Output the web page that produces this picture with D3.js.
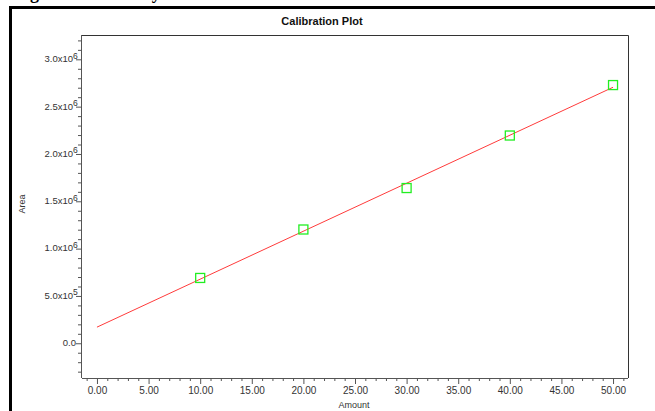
<!DOCTYPE html>
<html>
<head>
<meta charset="utf-8">
<script src="https://cdn.jsdelivr.net/npm/d3@7"></script>
<style>
  body { margin: 0; background: #fff; }
  text { font-family: "Liberation Sans", Arial, sans-serif; }
</style>
</head>
<body>
<div id="chart"></div>
<script>
// data
var amounts = [10, 20, 30, 40, 50];
var areas = [690000, 1202000, 1640000, 2195000, 2728000];

var xMajorTicks = [0, 5, 10, 15, 20, 25, 30, 35, 40, 45, 50];
var yMajorTicks = [0, 500000, 1000000, 1500000, 2000000, 2500000, 3000000];

var width = 655, height = 411;
var plot = {left: 82, right: 628, top: 35, bottom: 378};

var svg = d3.select("#chart").append("svg")
    .attr("width", width)
    .attr("height", height);

var x = d3.scaleLinear()
        .domain([-1.45, 51.45])
        .range([plot.left, plot.right]),
    y = d3.scaleLinear()
        .domain([-367000, 3257000])
        .range([plot.bottom, plot.top]);

// minor ticks every 1 unit / 100k
var xMinor = d3.range(-1, 52, 1).filter(function(d) { return d % 5 !== 0; });
var yMinor = d3.range(-3, 33, 1).filter(function(d) { return d % 5 !== 0; })
    .map(function(d) { return d * 100000; });

// page heading, cut off at the top of the figure like the scan
svg.append("text")
    .attr("x", 14)
    .attr("y", -1)
    .style("font-family", "'Liberation Serif', 'Times New Roman', serif")
    .style("font-weight", "bold")
    .style("font-size", "18px")
    .text("Figure 5: Linearity");

// outer figure border
svg.append("path")
    .attr("d", "M10.5," + height + "V7.5H" + width)
    .attr("fill", "none")
    .attr("stroke", "#000")
    .attr("stroke-width", 3);

// title
svg.append("text")
    .attr("x", 322)
    .attr("y", 25)
    .attr("text-anchor", "middle")
    .style("font-weight", "bold")
    .style("font-size", "11px")
    .style("fill", "#111")
    .text("Calibration Plot");

// frame top/right
svg.append("path")
    .attr("d", "M" + plot.left + "," + (plot.top + 0.5) + "H" + (plot.right + 0.5) + "V" + plot.bottom)
    .attr("fill", "none")
    .attr("stroke", "#333")
    .attr("stroke-width", 1);

// x axis
var xAxis = svg.append("g")
    .attr("class", "axis")
    .attr("transform", "translate(0," + plot.bottom + ")")
    .call(d3.axisBottom(x).tickValues(xMajorTicks).tickSize(6).tickPadding(3)
      .tickFormat(d3.format(".2f")));

svg.append("g")
    .attr("transform", "translate(0," + plot.bottom + ")")
    .call(d3.axisBottom(x).tickValues(xMinor).tickSize(3).tickFormat(""))
    .select(".domain").remove();

// y axis
var sciLabel = function(d) {
  if (d === 0) return {m: "0.0", e: ""};
  var e = Math.floor(Math.log10(d));
  return {m: (d / Math.pow(10, e)).toFixed(1) + "x10", e: String(e)};
};

var yAxis = svg.append("g")
    .attr("class", "axis")
    .attr("transform", "translate(" + plot.left + ",0)")
    .call(d3.axisLeft(y).tickValues(yMajorTicks).tickSize(6).tickPadding(4)
      .tickFormat(""));

svg.append("g")
    .attr("transform", "translate(" + plot.left + ",0)")
    .call(d3.axisLeft(y).tickValues(yMinor).tickSize(4).tickFormat(""))
    .select(".domain").remove();

svg.selectAll(".tick line")
    .attr("stroke", "#555");
svg.selectAll(".axis text")
    .style("font-family", "'Liberation Sans', Arial, sans-serif")
    .style("font-size", "10px")
    .attr("fill", "#333");

yAxis.selectAll(".tick").each(function(d) {
  var lab = sciLabel(d);
  d3.select(this).select("text")
      .attr("x", lab.e ? -9 : -6)
      .attr("dy", "0.25em")
      .style("font-size", "9.5px")
      .text(lab.m);
  if (lab.e) {
    d3.select(this).append("text")
      .attr("x", -9)
      .attr("y", -1)
      .attr("text-anchor", "start")
      .attr("fill", "#333")
      .style("font-size", "8.5px")
      .text(lab.e);
  }
});

xAxis.select(".domain").attr("stroke", "#555").attr("d", "M" + plot.left + ",0.5H" + plot.right);
yAxis.select(".domain").attr("stroke", "#555").attr("d", "M-0.5," + plot.top + "V" + plot.bottom);

// axis titles
svg.append("text")
    .attr("x", 354)
    .attr("y", 408)
    .attr("text-anchor", "middle")
    .style("font-size", "9px")
    .style("fill", "#333")
    .text("Amount");

svg.append("text")
    .attr("transform", "translate(25,204) rotate(-90)")
    .attr("text-anchor", "middle")
    .style("font-size", "9px")
    .style("fill", "#333")
    .text("Area");

// least squares fit through the standards
var mx = d3.mean(amounts), my = d3.mean(areas);
var slope = d3.sum(amounts, function(a, i) { return (a - mx) * (areas[i] - my); }) /
            d3.sum(amounts, function(a) { return (a - mx) * (a - mx); });
var intercept = my - slope * mx;

var fit = [0, 50].map(function(a) { return [a, intercept + slope * a]; });

svg.append("path")
    .datum(fit)
    .attr("fill", "none")
    .attr("stroke", "#ff3b3b")
    .attr("stroke-width", 1)
    .attr("d", d3.line()
      .x(function(d) { return x(d[0]); })
      .y(function(d) { return y(d[1]); }));

// standards as open squares
svg.selectAll(".pt")
    .data(amounts)
      .enter().append("rect")
    .attr("class", "pt")
    .attr("x", function(d) { return x(d) - 4.5; })
    .attr("y", function(d, i) { return y(areas[i]) - 4.5; })
    .attr("width", 9)
    .attr("height", 9)
    .attr("fill", "none")
    .attr("stroke", "#22ee22")
    .attr("stroke-width", 1.3);
</script>
</body>
</html>
